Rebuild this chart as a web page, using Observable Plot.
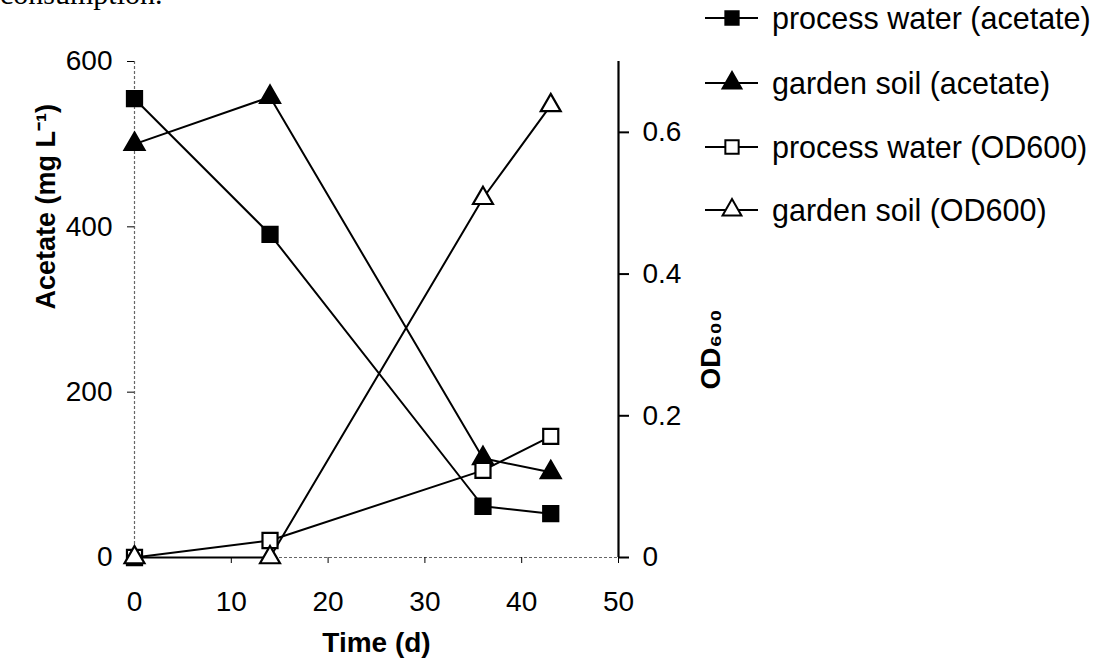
<!DOCTYPE html>
<html><head><meta charset="utf-8">
<script src="https://cdn.jsdelivr.net/npm/d3@7"></script>
<script src="https://cdn.jsdelivr.net/npm/@observablehq/plot@0.6"></script>
<style>
body{margin:0;background:#fff;width:1101px;height:671px;overflow:hidden;position:relative;font-family:"Liberation Sans",Arial,sans-serif;}
#chart{position:absolute;left:0;top:0;}
#legend{position:absolute;left:700px;top:0;width:401px;height:240px;}
.item{position:absolute;left:0;height:40px;display:flex;align-items:center;font-size:30.5px;line-height:1;white-space:nowrap;color:#000;}
.item svg{margin-right:12px;flex:none;}
#clip{position:absolute;left:0;top:-21px;line-height:30px;font-family:"Liberation Serif","Times New Roman",serif;font-size:30px;}
</style></head><body>
<div id="chart"></div>
<div id="clip">consumption.</div>
<div id="legend"></div>
<script>
// ---- data ----
const days = [0, 14, 36, 43];
const pwAcetate = [555, 391, 62, 53];
const gsAcetate = [500, 557, 120, 103];
const pwOD = [0, 0.024, 0.123, 0.171];
const gsOD = [0, 0, 0.507, 0.638];
const seriesNames = ["process water (acetate)", "garden soil (acetate)", "process water (OD600)", "garden soil (OD600)"];
const xTicks = [0, 10, 20, 30, 40, 50];
const leftTicks = [0, 200, 400, 600];
const rightTicks = [0, 0.2, 0.4, 0.6];
const acetateMax = 600, odMax = 0.7;
const k = acetateMax / odMax;

const series = [
  {name: seriesNames[0], values: pwAcetate, f: 1, symbol: "square", fill: "black"},
  {name: seriesNames[1], values: gsAcetate, f: 1, symbol: "triangle", fill: "black"},
  {name: seriesNames[2], values: pwOD, f: k, symbol: "square", fill: "white"},
  {name: seriesNames[3], values: gsOD, f: k, symbol: "triangle", fill: "white"}
];
const rows = series.flatMap(s => days.map((d, i) => ({series: s.name, day: d, y: s.values[i] * s.f})));

const font = "Liberation Sans, Arial, sans-serif";
const chart = Plot.plot({
  width: 1101, height: 671,
  marginLeft: 134, marginRight: 483, marginTop: 61, marginBottom: 114,
  style: {fontFamily: font, fontSize: "28px", color: "black", background: "white", overflow: "visible"},
  x: {domain: [0, 50]},
  y: {domain: [0, acetateMax]},
  marks: [
    Plot.ruleY([0], {stroke: "#666", strokeWidth: 1.2, strokeDasharray: "3,2"}),
    Plot.ruleX([0], {stroke: "#666", strokeWidth: 1.2, strokeDasharray: "3,2"}),
    Plot.ruleX([50], {stroke: "black", strokeWidth: 2.2}),
    Plot.axisX({ticks: xTicks, tickSize: 6, tickPadding: 28, label: null, fontSize: 28, tickFormat: d => String(d)}),
    Plot.axisY({ticks: leftTicks, anchor: "left", tickSize: 7, tickPadding: 15, label: null, fontSize: 28, tickFormat: d => String(d)}),
    Plot.axisY({ticks: rightTicks.map(v => v * k), anchor: "right", tickSize: 10, tickPadding: 14, label: null, fontSize: 28, strokeWidth: 2,
      tickFormat: v => String(Math.round(v / k * 10) / 10)}),
    Plot.line(rows, {x: "day", y: "y", z: "series", stroke: "black", strokeWidth: 2}),
    ...series.map(s => Plot.dot(rows.filter(r => r.series === s.name), {
      x: "day", y: "y", symbol: s.symbol, fill: s.fill, stroke: "black", strokeWidth: 2.2,
      r: s.symbol === "square" ? 8.5 : 7.4
    })),
    Plot.text(["Time (d)"], {frameAnchor: "bottom", dy: 94, fontWeight: "bold", fontSize: 28, fill: "black"}),
    Plot.text(["Acetate (mg L⁻¹)"], {frameAnchor: "left", dx: -88, rotate: -90, fontWeight: "bold", fontSize: 27, fill: "black"}),
    Plot.text(["OD₆₀₀"], {frameAnchor: "right", dx: 93, dy: 0, rotate: -90, fontWeight: "bold", fontSize: 28, fill: "black"})
  ]
});
document.getElementById("chart").appendChild(chart);

// ---- legend ----
const legendY = [18, 83, 147, 210];
const legend = d3.select("#legend");
series.forEach((s, i) => {
  const item = legend.append("div").attr("class", "item").style("top", (legendY[i] - 20) + "px");
  const svg = item.append("svg").attr("width", 60).attr("height", 40);
  svg.append("line").attr("x1", 5).attr("x2", 58).attr("y1", 20).attr("y2", 20).attr("stroke", "black").attr("stroke-width", 2);
  const sym = s.symbol === "square" ? d3.symbolSquare : d3.symbolTriangle;
  const size = Math.PI * (s.symbol === "square" ? 7.5 : 7) ** 2;
  svg.append("path").attr("d", d3.symbol(sym, size)()).attr("transform", "translate(32,20)")
    .attr("fill", s.fill).attr("stroke", "black").attr("stroke-width", 2);
  item.append("span").text(s.name);
});
</script>
</body></html>
